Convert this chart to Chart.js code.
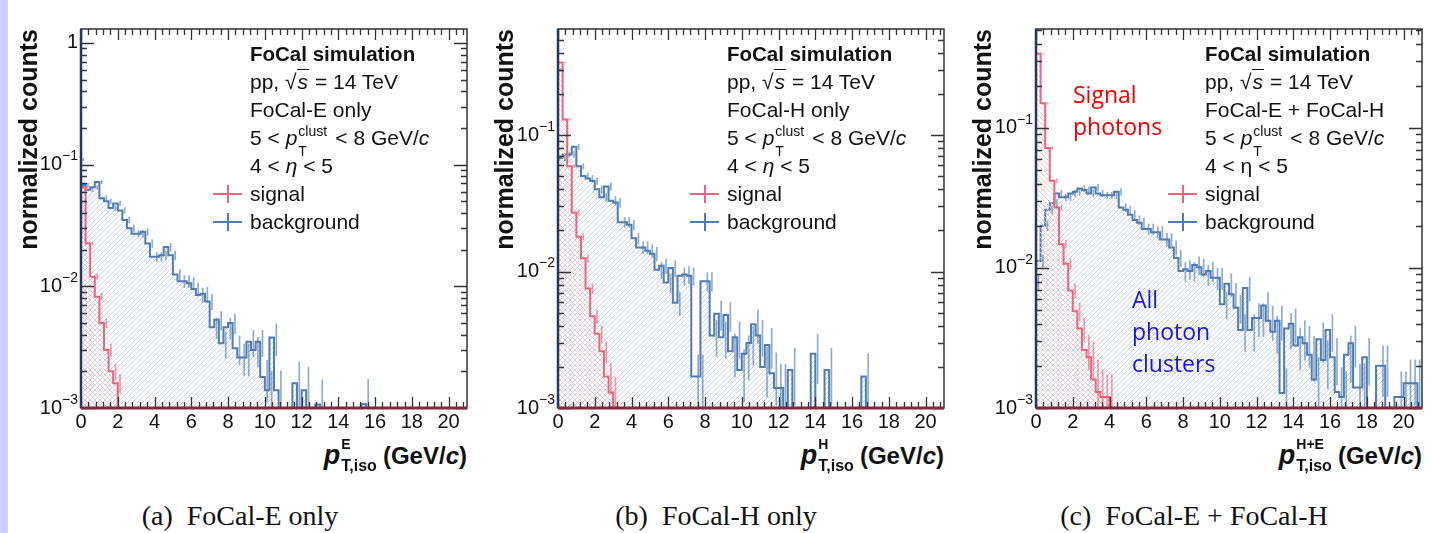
<!DOCTYPE html>
<html>
<head>
<meta charset="utf-8">
<script src="https://cdn.jsdelivr.net/npm/chart.js@4.4.1/dist/chart.umd.min.js"></script>
<style>
body{margin:0;width:1439px;height:533px;background:#fff;position:relative;overflow:hidden;font-family:"Liberation Sans",Arial,sans-serif;color:#111}
#strip{position:absolute;left:0;top:0;width:8px;height:533px;background:#ccccff}
canvas{position:absolute;top:0}
.info{position:absolute;top:40px;font-size:21px;white-space:nowrap}
.info > div{height:28px;line-height:28px;position:relative}
.info b{font-size:20.5px}
.ov{font-style:italic;border-top:1.5px solid #111;padding:0 1px}
.st{position:relative;display:inline-block;width:38px;height:10px}
.st span{position:absolute;left:1px;font-size:14px;line-height:14px}
.st .u{top:-11px}
.st .d{top:9px}
.mk{position:absolute;left:-37px;top:13px;width:29px;height:2px}
.mk i{position:absolute;left:13.5px;top:-8px;width:2px;height:18px;background:inherit}
.xt{position:absolute;top:440px;font-size:24px;font-weight:bold;line-height:30px;white-space:nowrap}
.xt .p{font-size:27px;font-style:italic}
.xt .st{width:36px}
.xt .st span{font-size:16px;line-height:16px}
.xt .st .u{top:-18px;font-size:14px}
.xt .st .d{top:4px}
.note{position:absolute;font-family:"Open Sans","Noto Sans",sans-serif;font-size:23px;line-height:32px}
.cap{position:absolute;top:500px;font-family:"Liberation Serif","Times New Roman",serif;font-size:28px;line-height:32px;white-space:nowrap;transform:translateX(-50%)}
</style>
</head>
<body>
<div id="strip"></div>
<canvas id="cE" width="470" height="440" style="left:10px"></canvas>
<canvas id="cH" width="470" height="440" style="left:490px"></canvas>
<canvas id="cHE" width="471" height="440" style="left:968px"></canvas>

<div class="info" style="left:250px">
  <div><b>FoCal simulation</b></div>
  <div>pp, √<span class="ov">s</span> = 14 TeV</div>
  <div>FoCal-E only</div>
  <div>5 &lt; <i>p</i><span class="st"><span class="u">clust</span><span class="d">T</span></span>&lt; 8 GeV/<i>c</i></div>
  <div>4 &lt; <i>η</i> &lt; 5</div>
  <div><span class="mk" style="background:#ef6478"><i></i></span>signal</div>
  <div><span class="mk" style="background:#4f7db4"><i></i></span>background</div>
</div>
<div class="info" style="left:727px">
  <div><b>FoCal simulation</b></div>
  <div>pp, √<span class="ov">s</span> = 14 TeV</div>
  <div>FoCal-H only</div>
  <div>5 &lt; <i>p</i><span class="st"><span class="u">clust</span><span class="d">T</span></span>&lt; 8 GeV/<i>c</i></div>
  <div>4 &lt; <i>η</i> &lt; 5</div>
  <div><span class="mk" style="background:#ef6478"><i></i></span>signal</div>
  <div><span class="mk" style="background:#4f7db4"><i></i></span>background</div>
</div>
<div class="info" style="left:1205px">
  <div><b>FoCal simulation</b></div>
  <div>pp, √<span class="ov">s</span> = 14 TeV</div>
  <div>FoCal-E + FoCal-H</div>
  <div>5 &lt; <i>p</i><span class="st"><span class="u">clust</span><span class="d">T</span></span>&lt; 8 GeV/<i>c</i></div>
  <div>4 &lt; η &lt; 5</div>
  <div><span class="mk" style="background:#ef6478"><i></i></span>signal</div>
  <div><span class="mk" style="background:#4f7db4"><i></i></span>background</div>
</div>

<div class="xt" style="right:972px"><span class="p">p</span><span class="st"><span class="u">E</span><span class="d">T,iso</span></span> (GeV/<i>c</i>)</div>
<div class="xt" style="right:495px"><span class="p">p</span><span class="st"><span class="u">H</span><span class="d">T,iso</span></span> (GeV/<i>c</i>)</div>
<div class="xt" style="right:17px"><span class="p">p</span><span class="st"><span class="u">H+E</span><span class="d">T,iso</span></span> (GeV/<i>c</i>)</div>

<div class="note" style="left:1073px;top:78px;color:#f00000">Signal<br>photons</div>
<div class="note" style="left:1132px;top:283px;color:#1515e6">All<br>photon<br>clusters</div>

<div class="cap" style="left:240px">(a)&nbsp; FoCal-E only</div>
<div class="cap" style="left:716px">(b)&nbsp; FoCal-H only</div>
<div class="cap" style="left:1194px">(c)&nbsp; FoCal-E + FoCal-H</div>

<script>
// bins of 0.25 GeV from 0 to 21 GeV
var binW = 0.25;
var xMax = 21;
var xTicks = [0, 2, 4, 6, 8, 10, 12, 14, 16, 18, 20];

// FoCal-E only
var sigE = [0.91, 0.065, 0.0225, 0.012, 0.0082, 0.005, 0.003, 0.002, 0.0016, 0,
  0,0,0,0,0,0,0,0,0,0, 0,0,0,0,0,0,0,0,0,0, 0,0,0,0,0,0,0,0,0,0,
  0,0,0,0,0,0,0,0,0,0, 0,0,0,0,0,0,0,0,0,0, 0,0,0,0,0,0,0,0,0,0,
  0,0,0,0,0,0,0,0,0,0, 0,0,0,0];
var sigEErr = [0.005, 0.02, 0.04, 0.06, 0.07, 0.09, 0.12, 0.15, 0.18, 0,
  0,0,0,0,0,0,0,0,0,0, 0,0,0,0,0,0,0,0,0,0, 0,0,0,0,0,0,0,0,0,0,
  0,0,0,0,0,0,0,0,0,0, 0,0,0,0,0,0,0,0,0,0, 0,0,0,0,0,0,0,0,0,0,
  0,0,0,0,0,0,0,0,0,0, 0,0,0,0];
var bgE = [0.11, 0.068, 0.062, 0.065, 0.072, 0.053, 0.05, 0.044, 0.048, 0.042,
  0.035, 0.030, 0.027, 0.027, 0.028, 0.0225, 0.0175, 0.0175, 0.018, 0.021,
  0.018, 0.0125, 0.011, 0.011, 0.0106, 0.0095, 0.0085, 0.0087, 0.0075, 0.0046,
  0.0053, 0.0034, 0.0046, 0.005, 0.0031, 0.0026, 0.0026, 0.0035, 0.003, 0.0035,
  0.0018, 0.0014, 0.0038, 0.0014, 0, 0, 0, 0.0016, 0, 0.0014,
  0, 0, 0.00107, 0, 0, 0, 0, 0, 0, 0,
  0, 0, 0.00108, 0, 0, 0, 0, 0, 0, 0,
  0, 0, 0, 0, 0, 0, 0, 0, 0, 0,
  0, 0, 0, 0];
var bgEErr = [0.03, 0.04, 0.04, 0.04, 0.04, 0.05, 0.05, 0.05, 0.05, 0.06,
  0.06, 0.07, 0.07, 0.07, 0.07, 0.08, 0.09, 0.09, 0.09, 0.08,
  0.09, 0.11, 0.12, 0.12, 0.12, 0.13, 0.14, 0.14, 0.15, 0.2,
  0.18, 0.25, 0.2, 0.19, 0.27, 0.3, 0.3, 0.25, 0.28, 0.25,
  0.38, 0.45, 0.3, 0.45, 0, 0, 0, 0.5, 0, 0.55,
  0, 0, 0.6, 0, 0, 0, 0, 0, 0, 0,
  0, 0, 0.6, 0, 0, 0, 0, 0, 0, 0,
  0, 0, 0, 0, 0, 0, 0, 0, 0, 0,
  0, 0, 0, 0];

// FoCal-H only
var sigH = [0.42, 0.34, 0.13, 0.059, 0.027, 0.018, 0.0125, 0.0075, 0.0047, 0.0035,
  0.0026, 0.0017, 0.0013, 0,0,0,0,0,0,0, 0,0,0,0,0,0,0,0,0,0,
  0,0,0,0,0,0,0,0,0,0, 0,0,0,0,0,0,0,0,0,0, 0,0,0,0,0,0,0,0,0,0,
  0,0,0,0,0,0,0,0,0,0, 0,0,0,0,0,0,0,0,0,0, 0,0,0,0];
var sigHErr = [0.01, 0.01, 0.02, 0.03, 0.05, 0.06, 0.07, 0.09, 0.12, 0.15,
  0.18, 0.25, 0.3, 0,0,0,0,0,0,0, 0,0,0,0,0,0,0,0,0,0,
  0,0,0,0,0,0,0,0,0,0, 0,0,0,0,0,0,0,0,0,0, 0,0,0,0,0,0,0,0,0,0,
  0,0,0,0,0,0,0,0,0,0, 0,0,0,0,0,0,0,0,0,0, 0,0,0,0];
var bgH = [0.3, 0.068, 0.072, 0.072, 0.082, 0.059, 0.05, 0.048, 0.046, 0.04,
  0.035, 0.042, 0.033, 0.032, 0.023, 0.023, 0.022, 0.0175, 0.015, 0.015,
  0.0142, 0.0135, 0.0103, 0.011, 0.0083, 0.0106, 0.0059, 0.0093, 0.0095, 0.0093,
  0.0017, 0.0017, 0.0085, 0.0085, 0.0034, 0.0049, 0.0033, 0.0048, 0.0026, 0.0033,
  0.0019, 0.0025, 0.003, 0.0041, 0.0034, 0.002, 0.0029, 0.0018, 0.0014, 0.0014,
  0, 0.0019, 0, 0, 0, 0, 0.0025, 0, 0, 0.0019,
  0, 0, 0, 0, 0, 0, 0, 0.0017, 0, 0,
  0, 0, 0, 0, 0, 0, 0, 0, 0, 0,
  0, 0, 0, 0];
var bgHErr = [0.03, 0.05, 0.05, 0.05, 0.05, 0.05, 0.06, 0.06, 0.06, 0.07,
  0.07, 0.07, 0.08, 0.08, 0.09, 0.09, 0.09, 0.1, 0.11, 0.11,
  0.11, 0.12, 0.14, 0.13, 0.16, 0.14, 0.2, 0.15, 0.15, 0.15,
  0.45, 0.45, 0.16, 0.16, 0.3, 0.25, 0.3, 0.25, 0.35, 0.3,
  0.42, 0.36, 0.32, 0.28, 0.3, 0.4, 0.33, 0.42, 0.5, 0.5,
  0, 0.45, 0, 0, 0, 0, 0.4, 0, 0, 0.45,
  0, 0, 0, 0, 0, 0, 0, 0.48, 0, 0,
  0, 0, 0, 0, 0, 0, 0, 0, 0, 0,
  0, 0, 0, 0];

// FoCal-E + FoCal-H
var sigHE = [0.34, 0.34, 0.15, 0.072, 0.042, 0.027, 0.0148, 0.0107, 0.0069, 0.0049,
  0.0037, 0.0026, 0.0023, 0.0016, 0.0013, 0.0012, 0.0012, 0,0,0,
  0,0,0,0,0,0,0,0,0,0, 0,0,0,0,0,0,0,0,0,0, 0,0,0,0,0,0,0,0,0,0,
  0,0,0,0,0,0,0,0,0,0, 0,0,0,0,0,0,0,0,0,0, 0,0,0,0,0,0,0,0,0,0, 0,0,0,0];
var sigHEErr = [0.01, 0.01, 0.02, 0.03, 0.04, 0.05, 0.07, 0.09, 0.12, 0.15,
  0.2, 0.28, 0.3, 0.38, 0.45, 0.45, 0.45, 0,0,0,
  0,0,0,0,0,0,0,0,0,0, 0,0,0,0,0,0,0,0,0,0, 0,0,0,0,0,0,0,0,0,0,
  0,0,0,0,0,0,0,0,0,0, 0,0,0,0,0,0,0,0,0,0, 0,0,0,0,0,0,0,0,0,0, 0,0,0,0];
var bgHE = [0.008, 0.0112, 0.02, 0.026, 0.029, 0.034, 0.032, 0.032, 0.034, 0.035,
  0.037, 0.036, 0.034, 0.0375, 0.034, 0.033, 0.033, 0.033, 0.035, 0.027,
  0.026, 0.024, 0.022, 0.021, 0.019, 0.019, 0.018, 0.018, 0.016, 0.016,
  0.014, 0.0118, 0.0095, 0.0098, 0.0095, 0.0105, 0.0101, 0.009, 0.0095, 0.0085,
  0.0085, 0.0055, 0.0077, 0.0065, 0.0052, 0.0036, 0.0072, 0.0036, 0.0044, 0.0044,
  0.0054, 0.0042, 0.0035, 0.0042, 0.00128, 0.0037, 0.004, 0.0028, 0.0032, 0.0029,
  0.0024, 0.0016, 0.0031, 0.0022, 0.0036, 0.0023, 0.0013, 0.0012, 0.0024, 0.0029,
  0.0014, 0.0014, 0.0023, 0, 0, 0.002, 0.002, 0, 0, 0.0012,
  0.0012, 0.0015, 0.0015, 0.0015];
var bgHEErr = [0.12, 0.1, 0.08, 0.07, 0.07, 0.06, 0.06, 0.06, 0.06, 0.06,
  0.06, 0.06, 0.06, 0.06, 0.06, 0.06, 0.06, 0.06, 0.06, 0.07,
  0.07, 0.08, 0.08, 0.09, 0.09, 0.09, 0.1, 0.1, 0.11, 0.11,
  0.12, 0.14, 0.16, 0.16, 0.16, 0.15, 0.15, 0.17, 0.16, 0.18,
  0.18, 0.22, 0.19, 0.2, 0.23, 0.3, 0.2, 0.3, 0.27, 0.27,
  0.24, 0.28, 0.3, 0.28, 0.5, 0.29, 0.28, 0.34, 0.32, 0.33,
  0.36, 0.45, 0.32, 0.38, 0.3, 0.37, 0.5, 0.52, 0.37, 0.33,
  0.48, 0.48, 0.37, 0, 0, 0.4, 0.4, 0, 0, 0.52,
  0.52, 0.48, 0.48, 0.48];

var yTicksE = [1, 0.1, 0.01, 0.001];
var yTicksH = [0.1, 0.01, 0.001];
var yTicksHE = [0.1, 0.01, 0.001];

var FLOOR = 1e-6; // empty bins drop below the axis

function hatch(color, up) {
  var n = 5;
  var c = document.createElement('canvas');
  c.width = n; c.height = n;
  var g = c.getContext('2d');
  g.strokeStyle = color;
  g.lineWidth = 1;
  g.beginPath();
  if (up) {
    g.moveTo(0, n); g.lineTo(n, 0);
  } else {
    g.moveTo(0, 0); g.lineTo(n, n);
  }
  g.stroke();
  return g.createPattern(c, 'repeat');
}

// histogram as a stepped line: low edges + closing edge
function toSteps(vals) {
  var pts = [{x: 0, y: FLOOR}];
  vals.forEach(function (v, i) {
    pts.push({x: i * binW, y: v > 0 ? v : FLOOR});
  });
  pts.push({x: vals.length * binW, y: FLOOR});
  return pts;
}

function supLabel(ctx, v, xr, py) {
  var e = Math.round(Math.log10(v));
  ctx.fillStyle = '#111';
  ctx.textBaseline = 'middle';
  if (e === 0) {
    ctx.font = '20px "Liberation Sans", Arial';
    ctx.textAlign = 'right';
    ctx.fillText('1', xr, py);
    return;
  }
  ctx.font = '14px "Liberation Sans", Arial';
  var sup = '\u2212' + Math.abs(e);
  var w = ctx.measureText(sup).width;
  ctx.textAlign = 'right';
  ctx.fillText(sup, xr, py - 8);
  ctx.font = '20px "Liberation Sans", Arial';
  ctx.fillText('10', xr - w, py);
}

var rootStyle = {
  id: 'rootStyle',
  afterDatasetsDraw: function (chart) {
    var ctx = chart.ctx, a = chart.chartArea, x = chart.scales.x, y = chart.scales.y;
    ctx.save();
    ctx.beginPath();
    ctx.rect(a.left, a.top, a.right - a.left, a.bottom - a.top);
    ctx.clip();
    chart.data.datasets.forEach(function (ds) {
      ctx.strokeStyle = ds.errColor;
      ctx.lineWidth = 1.7;
      ds.vals.forEach(function (v, i) {
        var e = ds.errs[i];
        if (!v || !e) return;
        var px = x.getPixelForValue((i + 0.5) * binW);
        ctx.beginPath();
        ctx.moveTo(px, y.getPixelForValue(v * (1 + e)));
        ctx.lineTo(px, y.getPixelForValue(Math.max(v * (1 - e), FLOOR)));
        ctx.stroke();
      });
    });
    ctx.restore();
  },
  afterDraw: function (chart) {
    var ctx = chart.ctx, a = chart.chartArea, x = chart.scales.x, y = chart.scales.y;
    ctx.save();
    ctx.strokeStyle = '#333';
    ctx.lineWidth = 1.3;
    ctx.beginPath();
    // x ticks, inside, bottom and top
    for (var t = 0; t <= xMax + 1e-9; t += 0.4) {
      var px = Math.round(x.getPixelForValue(t)) + 0.5;
      var major = Math.abs(t / 2 - Math.round(t / 2)) < 1e-6;
      var len = major ? 11 : 6;
      ctx.moveTo(px, a.bottom); ctx.lineTo(px, a.bottom - len);
      ctx.moveTo(px, a.top); ctx.lineTo(px, a.top + len);
    }
    // y ticks (log), inside, left and right
    for (var d = -3; d <= 0; d++) {
      for (var m = 1; m <= 9; m++) {
        var v = m * Math.pow(10, d);
        if (v < y.min * 0.999 || v > y.max) continue;
        var py = Math.round(y.getPixelForValue(v)) + 0.5;
        var l = m === 1 ? 13 : 6;
        ctx.moveTo(a.left, py); ctx.lineTo(a.left + l, py);
        ctx.moveTo(a.right, py); ctx.lineTo(a.right - l, py);
      }
    }
    ctx.stroke();
    // frame
    ctx.lineWidth = 1.5;
    ctx.strokeRect(a.left, a.top, a.right - a.left, a.bottom - a.top);
    ctx.strokeStyle = '#243566';
    ctx.lineWidth = 2.5;
    ctx.beginPath(); ctx.moveTo(a.left, a.top); ctx.lineTo(a.left, a.bottom); ctx.stroke();
    ctx.strokeStyle = '#84283f';
    ctx.lineWidth = 3;
    ctx.beginPath(); ctx.moveTo(a.left, a.bottom); ctx.lineTo(a.right, a.bottom); ctx.stroke();
    // y labels with superscripts
    chart.options.yTickVals.forEach(function (v) {
      supLabel(ctx, v, a.left - 3, y.getPixelForValue(v));
    });
    ctx.restore();
  }
};

function makePanel(id, sig, sigErr, bg, bgErr, yMax, yTicks, axisW, padR, titlePad) {
  new Chart(document.getElementById(id), {
    type: 'line',
    data: {
      datasets: [{
        data: toSteps(sig),
        vals: sig, errs: sigErr,
        errColor: 'rgba(236,88,110,0.6)',
        borderColor: '#ef6478',
        borderWidth: 2,
        backgroundColor: hatch('#f6c3ca', false),
        fill: 'start',
        stepped: 'after',
        pointRadius: 0
      }, {
        data: toSteps(bg),
        vals: bg, errs: bgErr,
        errColor: 'rgba(70,118,176,0.6)',
        borderColor: '#4f7db4',
        borderWidth: 2,
        backgroundColor: hatch('#c5d5ea', true),
        fill: 'start',
        stepped: 'after',
        pointRadius: 0
      }]
    },
    options: {
      responsive: false,
      animation: false,
      yTickVals: yTicks,
      layout: {padding: {top: 29, right: padR, bottom: 0, left: 0}},
      plugins: {legend: {display: false}, tooltip: {enabled: false}},
      scales: {
        x: {
          type: 'linear',
          min: 0, max: xMax,
          grid: {display: false, drawTicks: false},
          border: {display: false},
          afterBuildTicks: function (s) { s.ticks = xTicks.map(function (v) { return {value: v}; }); },
          afterFit: function (s) { s.height = 32; },
          ticks: {padding: 2, color: '#111', font: {size: 20, family: '"Liberation Sans", Arial'}}
        },
        y: {
          type: 'logarithmic',
          min: 0.001, max: yMax,
          grid: {display: false, drawTicks: false},
          border: {display: false},
          afterBuildTicks: function (s) { s.ticks = yTicks.map(function (v) { return {value: v}; }); },
          afterFit: function (s) { s.width = axisW; },
          ticks: {display: false},
          title: {
            display: true,
            text: 'normalized counts',
            align: 'end',
            color: '#111',
            padding: {top: titlePad, bottom: 0},
            font: {size: 25, weight: 'bold', family: '"Liberation Sans", Arial'}
          }
        }
      }
    },
    plugins: [rootStyle]
  });
}

makePanel('cE', sigE, sigEErr, bgE, bgEErr, 1.30, yTicksE, 71, 13, 5);
makePanel('cH', sigH, sigHErr, bgH, bgHErr, 0.598, yTicksH, 68, 16, 1);
makePanel('cHE', sigHE, sigHEErr, bgHE, bgHEErr, 0.509, yTicksHE, 68, 17, 1);
</script>
</body>
</html>
